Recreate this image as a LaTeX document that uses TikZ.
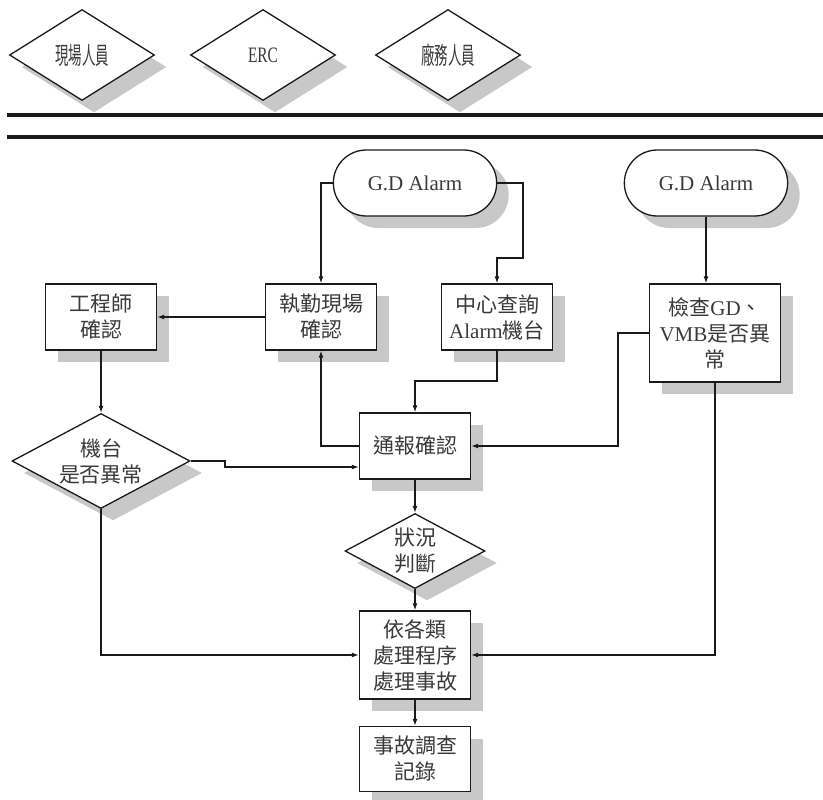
\documentclass[tikz,border=0pt]{standalone}
\usepackage{fontspec}
\usepackage{graphicx}
\setmainfont{Liberation Serif}
\newfontfamily\cjk{Noto Sans CJK TC}
\usetikzlibrary{arrows.meta,positioning,shapes,shadows}
\definecolor{ink}{HTML}{1A1A1A}
\definecolor{txtgray}{HTML}{3A3A3A}
\definecolor{shade}{HTML}{C8C8C8}
\tikzset{
  boxshadow/.style={drop shadow={shadow xshift=12pt,shadow yshift=-12pt,
                    fill=shade,opacity=1}},
  procbox/.style={draw=ink,fill=white,line width=1.3pt,
                  minimum width=111pt,minimum height=66pt,
                  align=center,inner sep=2pt,text=txtgray,
                  font=\cjk\fontsize{21}{26}\selectfont,boxshadow},
  decide/.style={diamond,draw=ink,fill=white,line width=1.3pt,
                 aspect=1.9,inner sep=0pt,align=center,text=txtgray,
                 font=\cjk\fontsize{21}{26}\selectfont,boxshadow},
  rolediam/.style={decide,minimum width=145pt,minimum height=91pt,
                   font=\cjk\fontsize{24}{28}\selectfont},
  termnode/.style={rounded rectangle,draw=ink,fill=white,line width=1.3pt,
                   minimum width=170pt,minimum height=66pt,text=txtgray,
                   font=\fontsize{21}{26}\selectfont,boxshadow},
  flowarr/.style={-{Latex[length=7pt,width=5pt]},line width=1.3pt,draw=ink},
  sepline/.style={line width=3.5pt,draw=ink}
}
\newcommand{\narrow}[2][0.56]{\scalebox{#1}[1]{#2}}

\begin{document}
\begin{tikzpicture}[x=1pt,y=-1pt]
  \useasboundingbox (0,0) rectangle (823,800);

  % roles
  \node[rolediam] (site) at (82,55) {\narrow{現場人員}};
  \node[rolediam] (erc) at (263,55) {\narrow[0.7]{\rmfamily\fontsize{22}{26}\selectfont ERC}};
  \node[rolediam] (fab) at (448,55) {\narrow{廠務人員}};
  \draw[sepline] (7,115) -- (823,115);
  \draw[sepline] (7,137) -- (823,137);

  % alarms
  \node[termnode] (gd1) at (415,183) {G.D Alarm};
  \node[termnode] (gd2) at (706,183) {G.D Alarm};

  \node[procbox] (eng) at (101,317) {工程師\\確認};
  \node[procbox] (duty) at (321,317) {執勤現場\\確認};
  \node[procbox] (query) at (497,317) {中心查詢\\{\rmfamily Alarm}機台};
  \node[procbox,minimum width=131pt,minimum height=98pt] (check) at (715,333)
    {檢查{\rmfamily GD}、\\{\rmfamily VMB}是否異\\常};
  \node[procbox] (report) at (415,446) {通報確認};
  \node[decide,minimum width=178pt,minimum height=95pt] (mach) at (101,461)
    {機台\\是否異常};
  \node[decide,minimum width=140pt,minimum height=75pt] (judge) at (415,551)
    {狀況\\判斷};
  \node[procbox,minimum height=88pt] (handle) at (415,655)
    {依各類\\處理程序\\處理事故};
  \node[procbox,minimum height=65pt] (record) at (415,759) {事故調查\\記錄};

  \coordinate (q1) at (523,258);
  \coordinate (q2) at (497,381);
  \coordinate (c1) at (618,446);
  \coordinate (m1) at (225,467);

  \draw[flowarr] (gd1.west) -| (duty.north);
  \draw[flowarr] (gd1.east) -| (q1) -| (query.north);
  \draw[flowarr] (gd2.south) -- (gd2.south |- check.north);
  \draw[flowarr] (query.south) -- (q2) -| (report.north);
  \draw[flowarr] (check.west) -| (c1) -- (report.east);
  \draw[flowarr] (report.west) -| (duty.south);
  \draw[flowarr] (duty.west) -- (eng.east);
  \draw[flowarr] (eng.south) -- (mach.north);
  \draw[flowarr] (mach.east) -| (m1) -- (report.west |- m1);
  \draw[flowarr] (report) -- (judge);
  \draw[flowarr] (judge) -- (handle);
  \draw[flowarr] (mach.south) |- (handle.west);
  \draw[flowarr] (check.south) |- (handle.east);
  \draw[flowarr] (handle) -- (record);
\end{tikzpicture}
\end{document}
